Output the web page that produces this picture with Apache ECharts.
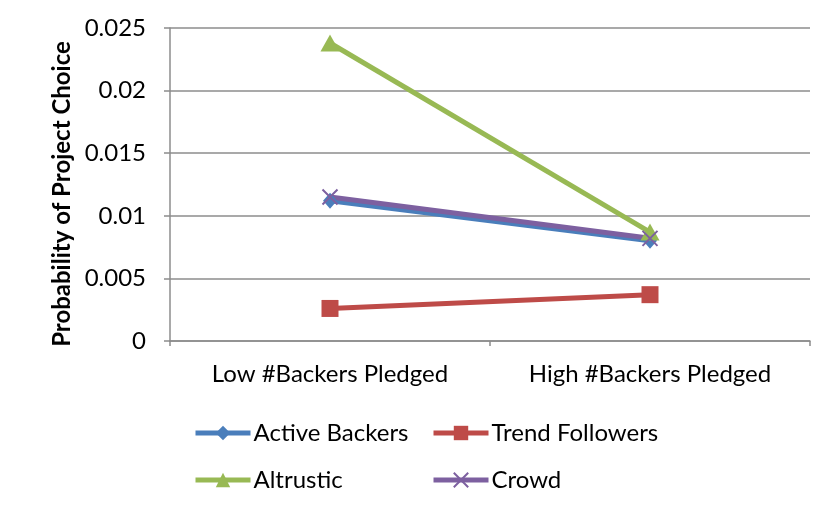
<!DOCTYPE html>
<html>
<head>
<meta charset="utf-8">
<script src="https://cdn.jsdelivr.net/npm/echarts@6/dist/echarts.min.js"></script>
<style>
  html, body { margin: 0; padding: 0; background: #fff; }
  #chart { width: 833px; height: 510px; position: relative; }
  #frame { position: absolute; left: 10px; top: 0; width: 2px; height: 509px; background: #8c8c8c; }
</style>
</head>
<body>
<div id="chart"><div id="frame"></div></div>
<script>
// Categories and series values
const categories = ['Low #Backers Pledged', 'High #Backers Pledged'];
const activeBackers = [0.0112, 0.0080];
const trendFollowers = [0.0026, 0.0037];
const altrustic = [0.0238, 0.0087];
const crowd = [0.0115, 0.0082];
const yTicks = { min: 0, max: 0.025, interval: 0.005 };
const yTitle = 'Probability of Project Choice';

const FONT = 'Lato, "Open Sans", sans-serif';
const chart = echarts.init(document.getElementById('chart'), null, { renderer: 'canvas' });

function series(name, data, color, symbol, size, extra) {
  return Object.assign({
    name: name,
    type: 'line',
    data: data,
    symbol: symbol,
    symbolSize: size,
    lineStyle: { color: color, width: 5 },
    itemStyle: { color: color },
    emphasis: { disabled: true },
    z: 2
  }, extra || {});
}

function legendAt(name, left, top) {
  return {
    data: [name],
    left: left,
    top: top,
    padding: 0,
    itemWidth: 55,
    itemHeight: 18,
    itemGap: 0,
    lineStyle: { width: 5 },
    textStyle: { fontFamily: FONT, fontSize: 24, lineHeight: 24, color: '#000', padding: [0, 0, 0, -2] },
    selectedMode: false
  };
}

chart.setOption({
  animation: false,
  grid: { left: 170, right: 23, top: 28, bottom: 169 },
  legend: [
    legendAt('Active Backers', 193, 421),
    legendAt('Trend Followers', 431, 421),
    legendAt('Altrustic', 193, 468),
    legendAt('Crowd', 431, 468)
  ],
  graphic: [{
    type: 'text',
    x: 62,
    y: 194,
    rotation: Math.PI / 2,
    style: {
      text: yTitle,
      fontFamily: FONT,
      fontSize: 24,
      fontWeight: 'bold',
      fill: '#000',
      align: 'center',
      verticalAlign: 'middle'
    }
  }],
  xAxis: {
    type: 'category',
    data: categories,
    boundaryGap: true,
    axisLine: { lineStyle: { color: '#8c8c8c', width: 1.5 } },
    axisTick: { show: true, length: 5, lineStyle: { color: '#8c8c8c', width: 1.5 } },
    axisLabel: { fontFamily: FONT, fontSize: 24, color: '#000', margin: 21 }
  },
  yAxis: {
    type: 'value',
    min: yTicks.min,
    max: yTicks.max,
    interval: yTicks.interval,
    axisLine: { show: true, lineStyle: { color: '#8c8c8c', width: 1.5 } },
    axisTick: { show: true, length: 6, lineStyle: { color: '#8c8c8c', width: 1.5 } },
    splitLine: { show: true, lineStyle: { color: '#8c8c8c', width: 1.5 } },
    axisLabel: { fontFamily: FONT, fontSize: 24, color: '#000', margin: 24 }
  },
  series: [
    series('Active Backers', activeBackers, '#4a7ebb', 'diamond', [14, 16]),
    series('Trend Followers', trendFollowers, '#be4b48', 'rect', 17),
    series('Altrustic', altrustic, '#98b954', 'triangle', [19, 17]),
    series('Crowd', crowd, '#7d60a0', 'path://M0,0 L2,2 M2,0 L0,2', 15, {
      itemStyle: { color: 'none', borderColor: '#7d60a0', borderWidth: 2 }
    })
  ]
});
</script>
</body>
</html>
